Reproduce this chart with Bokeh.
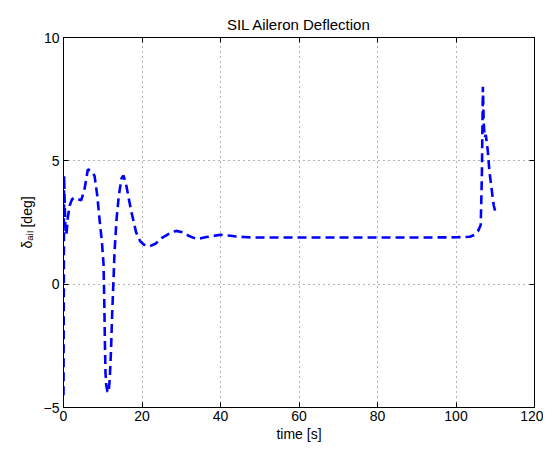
from bokeh.plotting import figure
from bokeh.models import LinearAxis, Range1d, FixedTicker
from bokeh.embed import file_html
from bokeh.resources import INLINE

time_s = [0.0, 0.15, 0.3, 0.5, 0.75, 1.1, 1.6, 2.2, 2.8, 3.6, 4.5, 5.3, 6.2, 7.0, 7.9, 8.6, 9.2,
          9.8, 10.2, 10.4, 10.55, 10.7, 10.9, 11.2, 11.5, 11.8, 12.1, 12.4, 12.7, 13.0, 13.5,
          14.1, 14.8, 15.3, 16.0, 17.2, 18.5, 19.5, 20.5, 21.9, 23.5, 25.0, 27.0, 28.7, 30.4,
          32.0, 33.8, 35.0, 36.4, 38.0, 40.0, 42.0, 44.0, 47.0, 50.0, 60.0, 70.0, 80.0, 90.0,
          100.0, 103.5, 104.7, 105.6, 106.3, 106.6, 106.85, 107.05, 107.3, 107.6, 108.1, 108.5,
          109.0, 109.6, 110.0]
delta_ail = [-4.5, 4.4, 3.3, 2.2, 2.0, 2.7, 3.2, 3.45, 3.5, 3.45, 3.4, 3.8, 4.65, 4.6, 4.4, 3.6, 2.6,
             1.7, 0.8, -0.8, -2.4, -3.6, -4.1, -4.35, -4.4, -3.8, -2.7, -1.2, 0.0, 1.3, 2.6,
             3.6, 4.3, 4.4, 4.0, 3.0, 2.1, 1.75, 1.6, 1.53, 1.65, 1.87, 2.05, 2.16, 2.1,
             1.95, 1.84, 1.86, 1.91, 1.95, 2.0, 1.97, 1.93, 1.9, 1.89, 1.89, 1.89, 1.89, 1.89,
             1.9, 1.92, 2.0, 2.15, 2.4, 4.5, 8.0, 6.6, 5.95, 6.05, 5.4, 4.6,
             3.95, 3.2, 2.95]

x_ticks = [0, 20, 40, 60, 80, 100, 120]
y_ticks = [-5, 0, 5, 10]

FONT = "Liberation Sans"

p = figure(width=543, height=444, output_backend="svg", toolbar_location=None,
           x_range=Range1d(0, 120), y_range=Range1d(-5, 10),
           min_border_left=63, min_border_right=9, min_border_top=37, min_border_bottom=37,
           title="SIL Aileron Deflection")
p.title.align = "center"
p.title.text_font = FONT
p.title.text_font_size = "15px"
p.title.text_font_style = "normal"
p.title.text_color = "black"
p.title.standoff = 9

p.line(time_s, delta_ail, line_color="#0000ff", line_width=2.6, line_dash="9 5")

for ax in (p.xaxis[0], p.yaxis[0]):
    ax.major_tick_in = 5
    ax.major_tick_out = 0
    ax.minor_tick_in = 0
    ax.minor_tick_out = 0
    ax.axis_line_color = "black"
    ax.major_tick_line_color = "black"
    ax.major_label_text_font = FONT
    ax.major_label_text_font_size = "14px"
    ax.major_label_text_color = "black"
    ax.axis_label_text_font = FONT
    ax.axis_label_text_font_size = "14px"
    ax.axis_label_text_font_style = "normal"
    ax.axis_label_text_color = "black"

p.xaxis[0].ticker = FixedTicker(ticks=x_ticks)
p.yaxis[0].ticker = FixedTicker(ticks=y_ticks)
p.yaxis[0].major_label_overrides = {-5: "\u22125"}
p.xaxis[0].axis_label = "time [s]"
p.yaxis[0].axis_label = "\u03b4\u2090\u1d62\u2097 [deg]"
p.xaxis[0].major_label_standoff = 3
p.xaxis[0].axis_label_standoff = 2
p.yaxis[0].major_label_standoff = 4
p.yaxis[0].axis_label_standoff = 6

top = LinearAxis(ticker=FixedTicker(ticks=x_ticks),
                 major_label_overrides={t: "" for t in x_ticks},
                 major_tick_in=5, major_tick_out=0, minor_tick_in=0, minor_tick_out=0,
                 major_label_standoff=0)
right = LinearAxis(ticker=FixedTicker(ticks=y_ticks),
                   major_label_overrides={t: "" for t in y_ticks},
                   major_tick_in=5, major_tick_out=0, minor_tick_in=0, minor_tick_out=0,
                   major_label_standoff=0)
p.add_layout(top, "above")
p.add_layout(right, "right")

p.xgrid.ticker = FixedTicker(ticks=x_ticks)
p.ygrid.ticker = FixedTicker(ticks=y_ticks)
for g in (p.xgrid, p.ygrid):
    g.grid_line_color = "black"
    g.grid_line_alpha = 0.6
    g.grid_line_dash = "1 4"
    g.grid_line_width = 1

p.outline_line_color = "black"
p.outline_line_alpha = 1
p.background_fill_color = "white"
p.border_fill_color = "white"

open("out.html", "w").write(file_html(p, INLINE))
